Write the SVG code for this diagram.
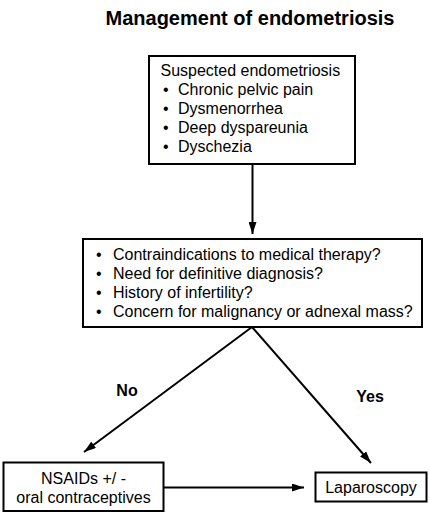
<svg xmlns="http://www.w3.org/2000/svg" width="430" height="517" viewBox="0 0 430 517">
<defs>
<marker id="ah" viewBox="0 0 12 8" refX="12" refY="4" markerWidth="12" markerHeight="8" markerUnits="userSpaceOnUse" orient="auto">
<path d="M0,0 L12,4 L0,8 Z" fill="#000"/>
</marker>
<style>
text{font-family:"Liberation Sans",Arial,sans-serif;fill:#000}
.t{font-size:16px}
.b{font-weight:bold}
.box{fill:#fff;stroke:#000;stroke-width:2}
.c{fill:none;stroke:#000;stroke-width:2}
</style>
</defs>
<rect width="430" height="517" fill="#fff"/>
<text id="title" x="250" y="25" text-anchor="middle" class="b" font-size="20">Management of endometriosis</text>
<g id="connectors">
<line class="c" x1="252.5" y1="164" x2="252.5" y2="234" marker-end="url(#ah)"/>
<line class="c" x1="252" y1="327" x2="84" y2="452" marker-end="url(#ah)"/>
<line class="c" x1="252" y1="327" x2="371" y2="463" marker-end="url(#ah)"/>
<line class="c" x1="164" y1="487.5" x2="304" y2="487.5" marker-end="url(#ah)"/>
<text class="t b" x="127" y="396" text-anchor="middle">No</text>
<text class="t b" x="370" y="402" text-anchor="middle">Yes</text>
</g>
<g id="suspected">
<rect class="box" x="149" y="56" width="206" height="108"/>
<text class="t" x="160.5" y="76">Suspected endometriosis</text>
<text class="t" x="163" y="95">•</text><text class="t" x="178" y="95">Chronic pelvic pain</text>
<text class="t" x="163" y="114">•</text><text class="t" x="178" y="114">Dysmenorrhea</text>
<text class="t" x="163" y="133">•</text><text class="t" x="178" y="133">Deep dyspareunia</text>
<text class="t" x="163" y="152">•</text><text class="t" x="178" y="152">Dyschezia</text>
</g>
<g id="questions">
<rect class="box" x="83" y="239" width="339" height="88"/>
<text class="t" x="96" y="260">•</text><text class="t" x="113" y="260">Contraindications to medical therapy?</text>
<text class="t" x="96" y="279">•</text><text class="t" x="113" y="279">Need for definitive diagnosis?</text>
<text class="t" x="96" y="298">•</text><text class="t" x="113" y="298">History of infertility?</text>
<text class="t" x="96" y="317">•</text><text class="t" x="113" y="317">Concern for malignancy or adnexal mass?</text>
</g>
<g id="nsaids">
<rect class="box" x="3.5" y="462.5" width="160" height="48.5"/>
<text class="t" x="83.5" y="484" text-anchor="middle">NSAIDs +/ -</text>
<text class="t" x="83.5" y="503" text-anchor="middle">oral contraceptives</text>
</g>
<g id="laparoscopy">
<rect class="box" x="315.5" y="472.5" width="111" height="29"/>
<text class="t" x="371" y="493" text-anchor="middle">Laparoscopy</text>
</g>
</svg>
